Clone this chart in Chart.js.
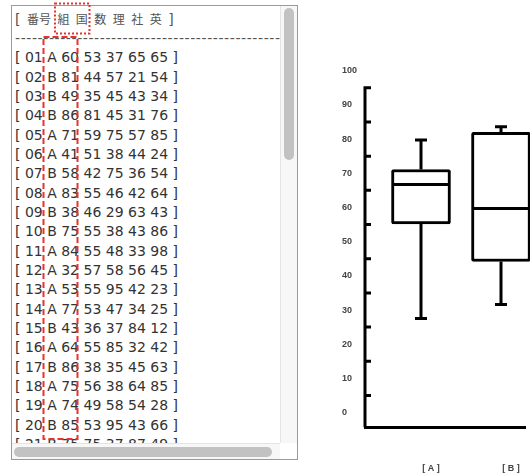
<!DOCTYPE html>
<html>
<head>
<meta charset="utf-8">
<script src="https://cdn.jsdelivr.net/npm/chart.js@4"></script>
<style>
  html, body { margin: 0; padding: 0; background: #fff; overflow: hidden; width: 530px; height: 475px; }
  #panel {
    position: absolute; left: 11px; top: 5px; width: 285px; height: 453px;
    border: 1px solid #9a9a9a; overflow: hidden; background: #fff;
  }
  #view {
    position: absolute; left: 0; top: 0; width: 268px; height: 437px; overflow: hidden;
    font-family: 'DejaVu Sans', 'Noto Sans CJK JP', sans-serif; font-size: 14px;
    line-height: 19.35px; color: #333; white-space: nowrap;
  }
  #list { padding: 2.6px 0 0 3px; }
  #list .head { color: #555; word-spacing: 2px; }
  #list .head .jp { font-size: 12px; font-family: 'Noto Sans CJK JP', sans-serif; }
  #list .dash { color: #555; letter-spacing: 0.6px; }
  .track { position: absolute; background: #f7f7f8; }
  #vtrack { left: 268px; top: 0; width: 16px; height: 437px; border-left: 1px solid #e4e4e4; }
  #htrack { left: 0; top: 437px; width: 268px; height: 15px; border-top: 1px solid #e4e4e4; }
  .thumb { position: absolute; background: #c2c2c2; border-radius: 5px; }
  #vthumb { left: 3px; top: 2px; width: 10px; height: 152px; }
  #hthumb { left: 2px; top: 3px; width: 258px; height: 10px; }
  #marks { position: absolute; left: 0; top: 0; pointer-events: none; }
  #chartBox { position: absolute; left: 330px; top: 0; width: 230px; height: 475px; }
</style>
</head>
<body>
<div id="panel">
  <div id="view"><div id="list"></div></div>
  <div class="track" id="vtrack"><div class="thumb" id="vthumb"></div></div>
  <div class="track" id="htrack"><div class="thumb" id="hthumb"></div></div>
</div>
<svg id="marks" width="530" height="475">
  <rect x="55" y="3.5" width="34.5" height="30" fill="none" stroke="#e8322c" stroke-width="2" stroke-dasharray="2 2"/>
  <rect x="43.5" y="37" width="34" height="402" fill="none" stroke="#e8322c" stroke-width="2" stroke-dasharray="6 3"/>
</svg>
<div id="chartBox"><canvas id="boxChart"></canvas></div>
<script>
// score table (rows visible in the list)
const ids = ['01','02','03','04','05','06','07','08','09','10','11','12','13','14','15','16','17','18','19','20','21'];
const groups = ['A','B','B','B','A','A','B','A','B','B','A','A','A','A','B','A','B','A','A','B','B'];
const kokugo = [60,81,49,86,71,41,58,83,38,75,84,32,53,77,43,64,86,75,74,85,75];
const suugaku = [53,44,35,81,59,51,42,55,46,55,55,57,55,53,36,55,38,56,49,53,75];
const rika = [37,57,45,45,75,38,75,46,29,38,48,58,95,47,37,85,35,38,58,95,37];
const shakai = [65,21,43,31,57,44,36,42,63,43,33,56,42,34,84,32,45,64,54,43,87];
const eigo = [65,54,34,76,85,24,54,64,43,86,98,45,23,25,12,42,63,85,28,66,49];
const headWords = ['番号','組','国','数','理','社','英'];

// box plot of 国 by group
const boxGroups = ['[ A ]', '[ B ]'];
const whiskerLow = [27.5, 31.6];
const q1 = [55.2, 44.2];
const median = [66.7, 59.7];
const q3 = [71.1, 82.0];
const whiskerHigh = [79.7, 83.6];
const yLabels = [0,10,20,30,40,50,60,70,80,90,100];
const yAxisMarks = [5,15,25,35,45,55,65,75,85,95];

const BOX_W = 59;

// build the text list
const list = document.getElementById('list');
let html = '<div class="head">[ ' + headWords.map(w => '<span class="jp">' + w + '</span>').join(' ') + ' ]</div>';
html += '<div class="dash">' + '-'.repeat(48) + '</div>';
ids.forEach((id, i) => {
    html += '<div>[ ' + [id, groups[i], kokugo[i], suugaku[i], rika[i], shakai[i], eigo[i]].join(' ') + ' ]</div>';
});
list.innerHTML = html;

const whiskerPlugin = {
    id: 'whiskers',
    afterDatasetsDraw(chart) {
        const {ctx, chartArea} = chart;
        const x = chart.scales.x;
        const y = chart.scales.y;
        ctx.save();
        ctx.strokeStyle = '#000';
        ctx.lineWidth = 3;
        ctx.lineCap = 'butt';

        // y axis line with inward marks
        const ax = chartArea.left;
        const topY = y.getPixelForValue(yAxisMarks[yAxisMarks.length - 1]);
        ctx.beginPath();
        ctx.moveTo(ax, topY - 1.5);
        ctx.lineTo(ax, chartArea.bottom);
        yAxisMarks.forEach(v => {
            const py = y.getPixelForValue(v);
            ctx.moveTo(ax, py);
            ctx.lineTo(ax + 6, py);
        });
        ctx.stroke();

        boxGroups.forEach((g, i) => {
            const cx = x.getPixelForValue(i + 1);
            const half = BOX_W / 2;
            const yMed = y.getPixelForValue(median[i]);
            const yQ1 = y.getPixelForValue(q1[i]);
            const yQ3 = y.getPixelForValue(q3[i]);
            const yLo = y.getPixelForValue(whiskerLow[i]);
            const yHi = y.getPixelForValue(whiskerHigh[i]);
            ctx.beginPath();
            ctx.moveTo(cx - half + 1, yMed);
            ctx.lineTo(cx + half - 1, yMed);
            ctx.moveTo(cx, yQ3);
            ctx.lineTo(cx, yHi);
            ctx.moveTo(cx - 6, yHi);
            ctx.lineTo(cx + 6, yHi);
            ctx.moveTo(cx, yQ1);
            ctx.lineTo(cx, yLo);
            ctx.moveTo(cx - 6, yLo);
            ctx.lineTo(cx + 6, yLo);
            ctx.stroke();
        });
        ctx.restore();
    }
};

const tickFont = { family: "'Liberation Sans', sans-serif", weight: 'bold', size: 9 };

new Chart(document.getElementById('boxChart'), {
    type: 'bar',
    data: {
        datasets: [{
            data: boxGroups.map((g, i) => ({ x: i + 1, y: [q1[i], q3[i]] })),
            backgroundColor: '#fff',
            borderColor: '#000',
            borderWidth: 3,
            borderSkipped: false,
            borderRadius: 2,
            barThickness: BOX_W,
            clip: false
        }]
    },
    options: {
        responsive: true,
        maintainAspectRatio: false,
        animation: false,
        layout: { padding: { left: 12, top: 70.7, right: 35, bottom: 0 } },
        plugins: { legend: { display: false }, tooltip: { enabled: false } },
        scales: {
            x: {
                type: 'linear',
                min: 0.3,
                max: 2.3,
                offset: false,
                afterBuildTicks: s => { s.ticks = boxGroups.map((g, i) => ({ value: i + 1 })); },
                afterFit: s => { s.height = 47.7; },
                ticks: {
                    callback: v => boxGroups[v - 1],
                    font: tickFont,
                    color: '#444',
                    padding: 36,
                    labelOffset: 10,
                    autoSkip: false,
                    maxRotation: 0
                },
                grid: { display: false, drawTicks: false },
                border: { display: true, color: '#000', width: 3 }
            },
            y: {
                type: 'linear',
                min: -4.3,
                max: 100,
                afterBuildTicks: s => { s.ticks = yLabels.map(v => ({ value: v })); },
                afterFit: s => { s.width = 23; },
                ticks: {
                    crossAlign: 'far',
                    font: tickFont,
                    color: '#444',
                    padding: 0
                },
                grid: { display: false, drawTicks: false },
                border: { display: false }
            }
        }
    },
    plugins: [whiskerPlugin]
});
</script>
</body>
</html>
